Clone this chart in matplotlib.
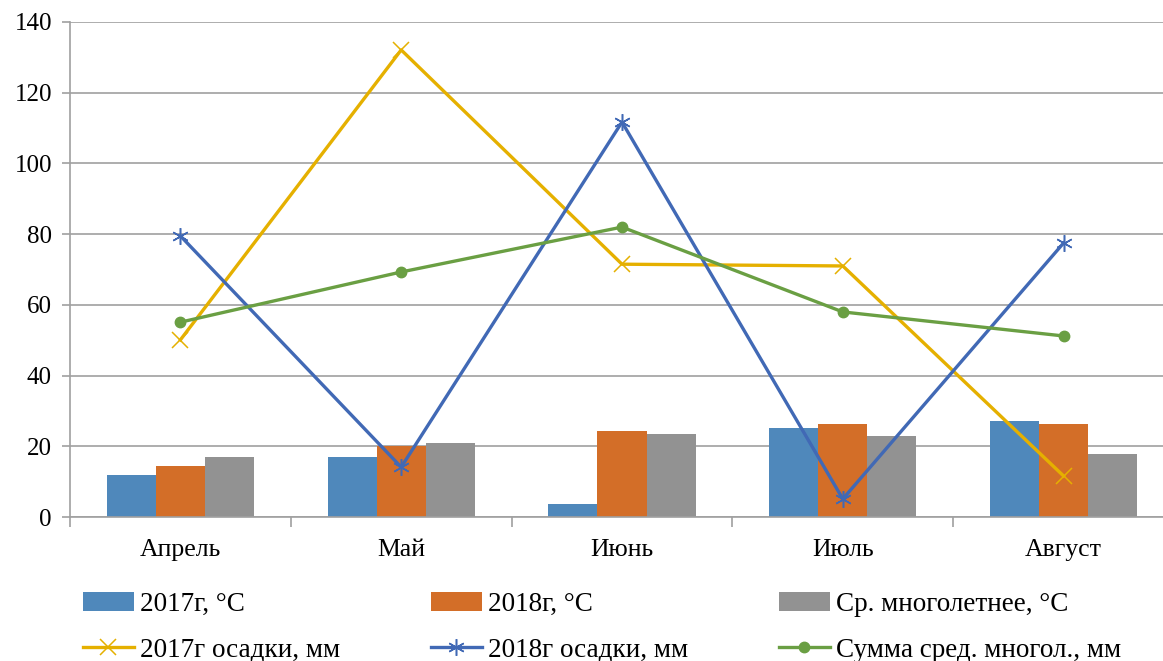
import matplotlib.pyplot as plt
import numpy as np

plt.rcParams['font.family'] = ['Liberation Serif', 'DejaVu Serif']

months = ['Апрель', 'Май', 'Июнь', 'Июль', 'Август']
t2017 = [11.9, 17.0, 3.6, 25.3, 27.1]
t2018 = [14.4, 20.1, 24.2, 26.4, 26.4]
t_avg = [17.0, 20.9, 23.6, 22.8, 17.7]
p2017 = [50.1, 132.1, 71.5, 71.0, 11.6]
p2018 = [79.5, 14.1, 111.7, 5.1, 77.5]
p_avg = [55.1, 69.3, 82.0, 58.0, 51.2]

fig = plt.figure(figsize=(11.63, 6.61), dpi=100)
ax = fig.add_axes([70 / 1163, 1 - 517 / 661, 1104 / 1163, 495 / 661])

x = np.arange(len(months))
w = 0.2222
b1 = ax.bar(x - w, t2017, w, color='#4F88BB', zorder=2, label='2017г, °C')
b2 = ax.bar(x, t2018, w, color='#D36E28', zorder=2, label='2018г, °C')
b3 = ax.bar(x + w, t_avg, w, color='#929292', zorder=2, label='Ср. многолетнее, °C')

l1, = ax.plot(x, p2017, color='#E5B000', lw=2.4, marker='x', ms=11, mew=1.1,
              zorder=3, label='2017г осадки, мм')
l2, = ax.plot(x, p2018, color='#4169B5', lw=2.4, marker=(6, 2, 0), ms=12, mew=1.1,
              zorder=3, label='2018г осадки, мм')
l3, = ax.plot(x, p_avg, color='#6A9F43', lw=2.4, marker='o', ms=7.5,
              zorder=3, label='Сумма сред. многол., мм')

ax.set_xlim(-0.5, len(months) - 0.5)
ax.set_ylim(0, 140)
ax.set_yticks(range(0, 141, 20))
ax.set_xticks(x)
ax.set_xticklabels(months)
ax.set_xticks(np.arange(-0.5, len(months), 1), minor=True)
ax.tick_params(axis='x', which='major', length=0, pad=16, labelsize=18.5)
ax.tick_params(axis='x', which='minor', length=7, color='#A0A0A0', width=1.2)
ax.tick_params(axis='y', length=6, color='#A0A0A0', width=1.2, labelsize=18, pad=7)
ax.grid(axis='y', color='#A0A0A0', lw=1.2, zorder=0)
for s in ['top', 'right']:
    ax.spines[s].set_visible(False)
for s in ['left', 'bottom']:
    ax.spines[s].set_color('#A0A0A0')
    ax.spines[s].set_linewidth(1.2)

handles = [b1, l1, b2, l2, b3, l3]
fig.legend(handles, [h.get_label() for h in handles], ncol=3, frameon=False,
           loc='upper left', bbox_to_anchor=(83 / 1163, 1 - 592 / 661),
           borderpad=0, borderaxespad=0,
           fontsize=19.5, handlelength=1.88, handletextpad=0.22,
           columnspacing=3.36, labelspacing=0.77)

fig.savefig('out.png', dpi=100)
